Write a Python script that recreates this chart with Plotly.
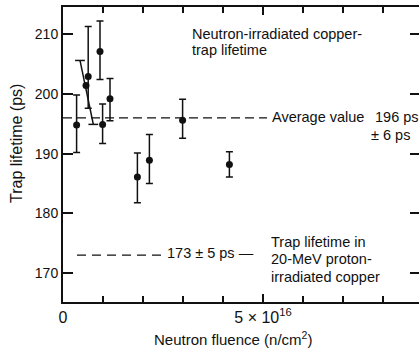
import plotly.graph_objects as go

# ---- data (fluence in units of 1e16 n/cm^2, lifetime in ps) ----
fluence = [0.34, 0.63, 0.925, 0.99, 1.175, 1.86, 2.16, 2.99, 4.16]
lifetime = [194.8, 202.9, 207.1, 194.9, 199.2, 186.1, 188.9, 195.6, 188.2]
err_plus = [5.0, 8.4, 5.1, 3.4, 3.4, 4.0, 4.3, 3.5, 2.1]
err_minus = [4.6, 5.3, 4.7, 3.2, 3.7, 4.3, 3.9, 3.0, 2.1]

# point drawn with a slanted error bar in the original
slant_point_x = [0.575]
slant_point_y = [201.4]
slant_bar_x = [0.425, 0.758]
slant_bar_y = [205.6, 194.9]

average_value = 196
average_line_x = [0, 5.1]
proton_value = 173
proton_line_x = [0.35, 2.5]

y_ticks = [170, 180, 190, 200, 210]
x_major_ticks = [0, 5]
x_ticktext = ["0", "5 × 10<sup>16</sup>"]
x_minor_ticks = [1, 2, 3, 4, 6, 7, 8]

FONT = "Liberation Sans, Arial, sans-serif"
INK = "#111111"

fig = go.Figure()

fig.add_trace(go.Scatter(
    x=average_line_x, y=[average_value] * len(average_line_x), mode="lines",
    line=dict(color=INK, width=1.3, dash="9px,5px"), hoverinfo="skip", showlegend=False))
fig.add_trace(go.Scatter(
    x=proton_line_x, y=[proton_value] * len(proton_line_x), mode="lines",
    line=dict(color=INK, width=1.3, dash="9px,6px"), hoverinfo="skip", showlegend=False))

fig.add_trace(go.Scatter(
    x=slant_bar_x, y=slant_bar_y, mode="lines+markers",
    line=dict(color=INK, width=1.5),
    marker=dict(symbol="line-ew", size=7, line=dict(color=INK, width=1.5)),
    hoverinfo="skip", showlegend=False))
fig.add_trace(go.Scatter(
    x=slant_point_x, y=slant_point_y, mode="markers",
    marker=dict(color=INK, size=7), showlegend=False))

fig.add_trace(go.Scatter(
    x=fluence, y=lifetime, mode="markers",
    marker=dict(color=INK, size=7),
    error_y=dict(type="data", array=err_plus, arrayminus=err_minus,
                 color=INK, thickness=1.5, width=3.5),
    showlegend=False))

# right-side ticks only (no line)
fig.add_trace(go.Scatter(x=[None], y=[None], yaxis="y2", showlegend=False))

ann_font = dict(family=FONT, size=14.5, color=INK)
annotations = [
    dict(x=3.175, y=209.95, text="Neutron-irradiated copper-", xanchor="left", yanchor="middle"),
    dict(x=3.175, y=207.3, text="trap lifetime", xanchor="left", yanchor="middle"),
    dict(x=5.17, y=196.2, text="Average value", xanchor="left", yanchor="middle"),
    dict(x=7.75, y=196.2, text=f"{average_value} ps", xanchor="left", yanchor="middle"),
    dict(x=7.66, y=193.1, text="± 6 ps", xanchor="left", yanchor="middle"),
    dict(x=2.56, y=173.3, text=f"{proton_value} ± 5 ps —", xanchor="left", yanchor="middle"),
    dict(x=5.15, y=175.2, text="Trap lifetime in", xanchor="left", yanchor="middle"),
    dict(x=5.15, y=172.3, text="20-MeV proton-", xanchor="left", yanchor="middle"),
    dict(x=5.15, y=169.3, text="irradiated copper", xanchor="left", yanchor="middle"),
]
for a in annotations:
    a.update(xref="x", yref="y", showarrow=False, font=ann_font)

annotations.append(dict(xref="paper", yref="paper", x=(233 - 63) / 356, y=(302 - 338) / 295,
                        text="Neutron fluence (n/cm<sup>2</sup>)", showarrow=False,
                        xanchor="center", yanchor="middle",
                        font=dict(family=FONT, size=15, color=INK)))
annotations.append(dict(xref="paper", yref="paper", x=(17 - 63) / 356, y=(302 - 143) / 295,
                        text="Trap lifetime (ps)", showarrow=False, textangle=-90,
                        xanchor="center", yanchor="middle",
                        font=dict(family=FONT, size=16, color=INK)))

fig.update_layout(
    width=419, height=349,
    margin=dict(l=63, r=0, t=7, b=47),
    paper_bgcolor="white", plot_bgcolor="white",
    font=dict(family=FONT, color=INK),
    annotations=annotations,
    xaxis=dict(range=[0, 8.9], tickvals=x_major_ticks, ticktext=x_ticktext,
               ticks="inside", ticklen=8, tickwidth=1.5, tickcolor=INK,
               minor=dict(tickvals=x_minor_ticks, ticks="inside", ticklen=6,
                          tickwidth=1.5, tickcolor=INK, showgrid=False),
               showline=True, linewidth=2, linecolor=INK, mirror="ticks",
               showgrid=False, zeroline=False,
               tickfont=dict(family=FONT, size=16, color=INK)),
    yaxis=dict(range=[165.17, 214.55], tickvals=y_ticks,
               ticks="inside", ticklen=10, tickwidth=1.5, tickcolor=INK,
               showline=True, linewidth=2, linecolor=INK, mirror=False,
               showgrid=False, zeroline=False,
               tickfont=dict(family=FONT, size=14, color=INK)),
    yaxis2=dict(range=[165.17, 214.55], tickvals=y_ticks, overlaying="y", side="right",
                ticks="inside", ticklen=9, tickwidth=1.5, tickcolor=INK,
                showline=False, showticklabels=False, showgrid=False, zeroline=False),
)

fig.write_html("out.html")
